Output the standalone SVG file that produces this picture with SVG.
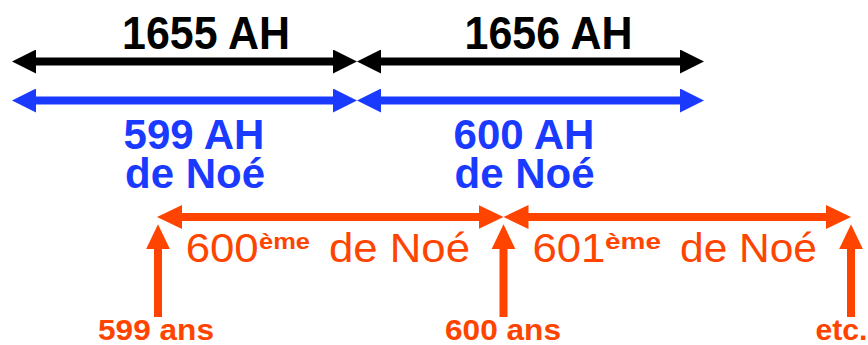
<svg xmlns="http://www.w3.org/2000/svg" width="868" height="345" viewBox="0 0 868 345">
<style>
.k{stroke:#000;stroke-width:8;fill:none}
.b{stroke:#1a3aff;stroke-width:8;fill:none}
.o{stroke:#ff4400;stroke-width:8;fill:none}
.tk{font-family:"Liberation Sans",Arial,sans-serif;font-weight:bold;fill:#000;font-size:46px;text-anchor:middle}
.tb{font-family:"Liberation Sans",Arial,sans-serif;font-weight:bold;fill:#1a3aff;font-size:42px;text-anchor:middle}
.to{font-family:"Liberation Sans",Arial,sans-serif;fill:#ff4400;font-size:41px}
.ts{font-family:"Liberation Sans",Arial,sans-serif;font-weight:bold;fill:#ff4400;font-size:22px}
.tl{font-family:"Liberation Sans",Arial,sans-serif;font-weight:bold;fill:#ff4400;font-size:29px}
</style>
<defs>
<marker id="hk" markerUnits="userSpaceOnUse" markerWidth="24" markerHeight="24" viewBox="0 0 24 24" refX="4" refY="12" orient="auto-start-reverse"><path d="M0,0L24,12L0,24z" fill="#000"/></marker>
<marker id="hb" markerUnits="userSpaceOnUse" markerWidth="24" markerHeight="24" viewBox="0 0 24 24" refX="4" refY="12" orient="auto-start-reverse"><path d="M0,0L24,12L0,24z" fill="#1a3aff"/></marker>
<marker id="ho" markerUnits="userSpaceOnUse" markerWidth="25" markerHeight="24" viewBox="0 0 25 24" refX="5" refY="12" orient="auto-start-reverse"><path d="M0,0L25,12L0,24z" fill="#ff4400"/></marker>
</defs>
<g id="connectors">
<line class="k" x1="32" y1="61.5" x2="337" y2="61.5" marker-start="url(#hk)" marker-end="url(#hk)"/>
<line class="k" x1="377" y1="61.5" x2="684" y2="61.5" marker-start="url(#hk)" marker-end="url(#hk)"/>
<line class="b" x1="32" y1="100.5" x2="337" y2="100.5" marker-start="url(#hb)" marker-end="url(#hb)"/>
<line class="b" x1="377" y1="100.5" x2="684" y2="100.5" marker-start="url(#hb)" marker-end="url(#hb)"/>
<line class="o" x1="177" y1="217" x2="483.5" y2="217" marker-start="url(#ho)" marker-end="url(#ho)"/>
<line class="o" x1="523.5" y1="217" x2="831" y2="217" marker-start="url(#ho)" marker-end="url(#ho)"/>
<line class="o" x1="158" y1="317" x2="158" y2="244.3" marker-end="url(#ho)"/>
<line class="o" x1="503.5" y1="317" x2="503.5" y2="244.3" marker-end="url(#ho)"/>
<line class="o" x1="851" y1="317" x2="851" y2="244.3" marker-end="url(#ho)"/>
</g>
<g id="year1655"><text class="tk" x="206" y="48.5" textLength="168" lengthAdjust="spacingAndGlyphs">1655 AH</text></g>
<g id="year1656"><text class="tk" x="548.5" y="48.5" textLength="168" lengthAdjust="spacingAndGlyphs">1656 AH</text></g>
<g id="noe599"><text class="tb" x="194" y="148.5">599 AH</text><text class="tb" x="195" y="188">de Noé</text></g>
<g id="noe600"><text class="tb" x="524" y="148.5">600 AH</text><text class="tb" x="524.5" y="188">de Noé</text></g>
<g id="year600">
<text class="to" x="185.7" y="261.7" textLength="73" lengthAdjust="spacingAndGlyphs">600</text>
<text class="ts" x="259" y="248.5" textLength="51" lengthAdjust="spacingAndGlyphs">ème</text>
<text class="to" x="329" y="261.7" textLength="141" lengthAdjust="spacingAndGlyphs">de Noé</text>
</g>
<g id="year601">
<text class="to" x="532.4" y="261.7" textLength="73" lengthAdjust="spacingAndGlyphs">601</text>
<text class="ts" x="605" y="248.5" textLength="56" lengthAdjust="spacingAndGlyphs">ème</text>
<text class="to" x="680" y="261.7" textLength="137" lengthAdjust="spacingAndGlyphs">de Noé</text>
</g>
<g id="age599"><text class="tl" x="98" y="340" textLength="116" lengthAdjust="spacingAndGlyphs">599 ans</text></g>
<g id="age600"><text class="tl" x="445" y="340" textLength="116" lengthAdjust="spacingAndGlyphs">600 ans</text></g>
<g id="etc"><text class="tl" x="815.5" y="340" textLength="52" lengthAdjust="spacingAndGlyphs">etc.</text></g>
</svg>
